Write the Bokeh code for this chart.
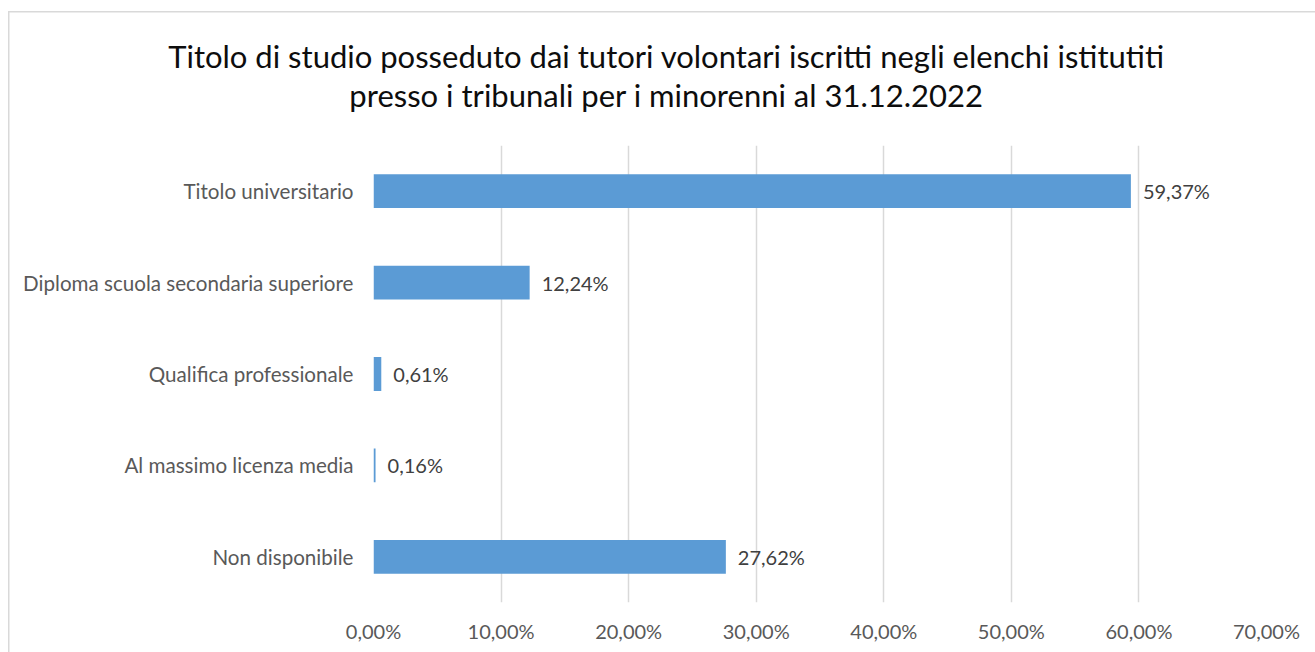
from bokeh.plotting import figure
from bokeh.models import FactorRange, Range1d, FixedTicker, ColumnDataSource, Label
from bokeh.core.properties import value
from bokeh.embed import file_html
from bokeh.resources import INLINE

# ---- data ----
categories = [
    "Titolo universitario",
    "Diploma scuola secondaria superiore",
    "Qualifica professionale",
    "Al massimo licenza media",
    "Non disponibile",
]
percentages = [59.37, 12.24, 0.61, 0.16, 27.62]
x_ticks = [0, 10, 20, 30, 40, 50, 60, 70]
x_tick_labels = ["0,00%", "10,00%", "20,00%", "30,00%", "40,00%", "50,00%", "60,00%", "70,00%"]
title_lines = [
    "Titolo di studio posseduto dai tutori volontari iscritti negli elenchi istitutiti",
    "presso i tribunali per i minorenni al 31.12.2022",
]

FONT = "Lato"
value_labels = [f"{v:.2f}".replace(".", ",") + "%" for v in percentages]

src = ColumnDataSource(dict(cat=categories, val=percentages, lab=value_labels))

grad = "linear-gradient(#D9D9D9,#D9D9D9)"
p = figure(
    width=1315, height=652,
    y_range=FactorRange(*categories[::-1]),
    x_range=Range1d(0, 70),
    output_backend="svg", toolbar_location=None,
    min_border_left=373, min_border_right=49, min_border_top=145, min_border_bottom=50,
    styles={
        "background": f"{grad} 8px 11px / 1.5px 100% no-repeat, {grad} 8px 11px / 100% 1.5px no-repeat, white",
    },
)
p.outline_line_color = None
p.background_fill_color = "white"
p.border_fill_color = None

p.hbar(y="cat", right="val", left=0, height=0.37, source=src,
       fill_color="#5B9BD5", line_color=None)

p.text(x="val", y="cat", text="lab", source=src, x_offset=12,
       text_baseline="middle", text_align="left",
       text_font=value(FONT), text_font_size="20px", text_color="#404040")

# axes
p.xaxis.ticker = FixedTicker(ticks=x_ticks)
p.xaxis.major_label_overrides = {t: l for t, l in zip(x_ticks, x_tick_labels)}
for ax in (p.xaxis, p.yaxis):
    ax.axis_line_color = None
    ax.major_tick_line_color = None
    ax.minor_tick_line_color = None
    ax.major_tick_out = 0
    ax.major_tick_in = 0
    ax.major_label_text_font = FONT
    ax.major_label_text_color = "#595959"
p.xaxis.major_label_text_font_size = "20px"
p.yaxis.major_label_text_font_size = "20.6px"
p.xaxis.major_label_standoff = 16
p.yaxis.major_label_standoff = 20

p.xgrid.ticker = FixedTicker(ticks=x_ticks)
p.xgrid.grid_line_color = "#D9D9D9"
p.xgrid.grid_line_width = 1.5
p.ygrid.grid_line_color = None

# two-line title as labels in the top side panels (not clipped to the frame)
for txt, y in zip(title_lines, [90, 13]):
    p.add_layout(Label(x=293, y=y, x_units="screen", y_units="screen", text=txt,
                       text_align="center", text_baseline="middle",
                       text_font=FONT, text_font_size="31px",
                       text_color="#0D0D0D"), "above")

open("out.html", "w").write(file_html(p, INLINE))
